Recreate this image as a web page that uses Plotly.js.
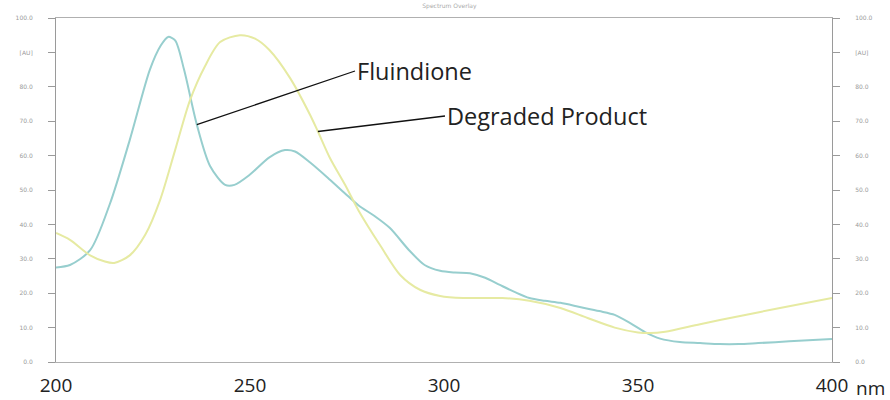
<!DOCTYPE html>
<html>
<head>
<meta charset="utf-8">
<script src="https://cdn.plot.ly/plotly-3.0.1.min.js"></script>
<style>html,body{margin:0;padding:0;background:#fff;}#chart{width:890px;height:400px;}</style>
</head>
<body>
<div id="chart"></div>
<script>
// Fluindione (blue) spectrum
const fluWavelength = [200, 203.6, 208.8, 213.9, 219, 224.2, 227, 228.9, 230.7, 233, 236.3, 239.7, 243.6, 246, 250, 255, 259, 261.6, 265.5, 270.6, 274.5, 278, 282, 286, 291, 295, 299, 302.8, 306.7, 310.6, 314.4, 318.3, 322, 326, 330, 335, 340, 344, 348, 351.8, 355.7, 360.8, 366, 371, 376, 381, 389, 400];
const fluAbs = [27.5, 28.2, 32.5, 46, 64.5, 85, 92, 94.5, 93.5, 85, 69, 57, 51.5, 51.5, 54.5, 59.5, 61.6, 61.2, 58, 53, 49, 45.5, 42.5, 39, 32.5, 28.2, 26.5, 26, 25.8, 24.5, 22.4, 20.3, 18.6, 17.8, 17.2, 16, 14.8, 13.7, 11.3, 8.7, 6.8, 5.8, 5.5, 5.2, 5.2, 5.5, 6, 6.7];

// Degraded product (yellow) spectrum
const degWavelength = [200, 203.6, 208.8, 212.6, 215, 219, 223, 226.8, 230.7, 234.5, 238.4, 242.3, 247.4, 251.3, 255, 260.3, 265.5, 267.5, 270.6, 274.5, 278, 283.5, 288.7, 293.8, 299, 305, 315, 322, 330, 337, 344, 350, 353, 357, 366, 376, 386.6, 400];
const degAbs = [37.5, 35.5, 31, 29.2, 28.8, 31, 37, 47, 61.6, 76, 86, 93, 95, 94, 90.7, 82.6, 71.8, 67, 59.3, 51.5, 44, 34, 25.3, 21, 19.2, 18.6, 18.6, 17.8, 15.7, 12.8, 10, 8.6, 8.4, 8.8, 11, 13.3, 15.7, 18.6];

// Axis ticks
const yTickVals = [0, 10, 20, 30, 40, 50, 60, 70, 80, 90, 100];
const yTickText = ['0.0', '10.0', '20.0', '30.0', '40.0', '50.0', '60.0', '70.0', '80.0', '[AU]', '100.0'];
const xTickVals = [200, 250, 300, 350, 400];
const xTickText = ['200', '250', '300', '350', '400'];

const traces = [
  {x: fluWavelength, y: fluAbs, type: 'scatter', mode: 'lines', name: 'Fluindione',
   line: {color: '#97cece', width: 2, shape: 'spline', smoothing: 0.8}, yaxis: 'y'},
  {x: degWavelength, y: degAbs, type: 'scatter', mode: 'lines', name: 'Degraded Product',
   line: {color: '#e6eaa2', width: 2, shape: 'spline', smoothing: 0.8}, yaxis: 'y2'}
];

const yCommon = {
  range: [0, 100], tickvals: yTickVals, ticktext: yTickText,
  showgrid: false, zeroline: false, showline: true, linecolor: '#9a9a9a', linewidth: 1,
  ticks: 'outside', ticklen: 7, tickcolor: '#9a9a9a',
  tickfont: {family: 'DejaVu Sans', size: 6, color: '#9a9a9a'}, fixedrange: true
};

const annFont = {family: 'Open Sans', size: 23.5, color: '#222222'};

const layout = {
  width: 890, height: 400,
  margin: {l: 56, r: 58, t: 18, b: 38},
  paper_bgcolor: '#ffffff', plot_bgcolor: '#ffffff',
  showlegend: false,
  title: {text: 'Spectrum Overlay', font: {family: 'DejaVu Sans', size: 6, color: '#aaaaaa'}, x: 0.505, xanchor: 'center', y: 0.99, yanchor: 'top'},
  xaxis: {
    range: [200, 400], tickvals: xTickVals, ticktext: xTickText,
    showgrid: false, zeroline: false, showline: true, mirror: true, linecolor: '#b0b0b0', linewidth: 1,
    ticks: '', ticklabelstandoff: 6, tickfont: {family: 'Open Sans', size: 19, color: '#222222'}
  },
  yaxis: Object.assign({}, yCommon, {side: 'left', ticklabelstandoff: 14}),
  yaxis2: Object.assign({}, yCommon, {side: 'right', overlaying: 'y', ticklabelstandoff: 14}),
  annotations: [
    {xref: 'paper', yref: 'paper', x: 1.049, y: -0.077, text: 'nm', showarrow: false, xanchor: 'center', yanchor: 'middle',
     font: {family: 'Open Sans', size: 19, color: '#222222'}},
    {x: 236.3, y: 69, xref: 'x', yref: 'y', ax: 355, ay: 71, text: 'Fluindione',
     showarrow: true, arrowhead: 0, arrowwidth: 1.3, arrowcolor: '#111111', xanchor: 'left', yanchor: 'middle',
     font: annFont},
    {x: 267.5, y: 67, xref: 'x', yref: 'y', ax: 445, ay: 116, text: 'Degraded Product',
     showarrow: true, arrowhead: 0, arrowwidth: 1.3, arrowcolor: '#111111', xanchor: 'left', yanchor: 'middle',
     font: annFont}
  ]
};

// convert absolute pixel targets to offsets relative to the arrow tip
const plotL = 56, plotT = 18, plotW = 890 - 56 - 58, plotH = 400 - 18 - 38;
layout.annotations.slice(1).forEach(a => {
  const px = plotL + (a.x - 200) / 200 * plotW;
  const py = plotT + (1 - a.y / 100) * plotH;
  a.ax = a.ax - px; a.ay = a.ay - py;
});

Plotly.newPlot('chart', traces, layout, {displayModeBar: false, staticPlot: true});
</script>
</body>
</html>
